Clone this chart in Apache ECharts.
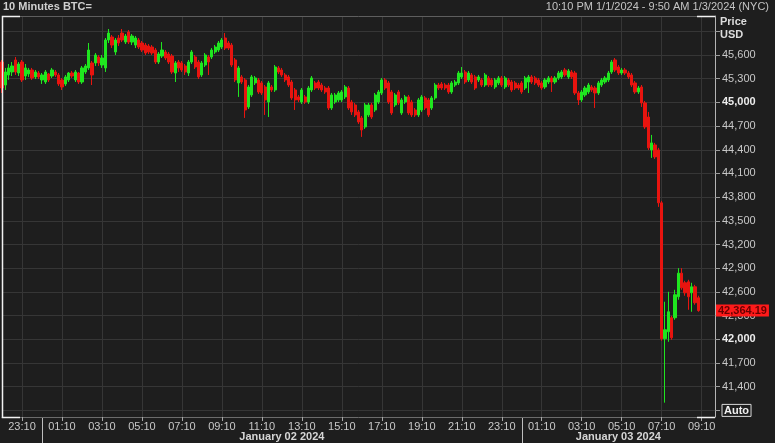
<!DOCTYPE html>
<html><head><meta charset="utf-8">
<script src="https://cdn.jsdelivr.net/npm/echarts@6/dist/echarts.min.js"></script>
<style>html,body{margin:0;padding:0;background:#1e1e1e;overflow:hidden}#c{width:775px;height:443px}</style>
</head><body><div id="c"></div>
<script>
const titleText = '10 Minutes BTC=';
const rangeText = '10:10 PM 1/1/2024 - 9:50 AM 1/3/2024 (NYC)';
const unitLines = ['Price', 'USD'];
// 10-minute bar times (NYC), 01/01 22:10 .. 01/03 09:50
const categories = [];
(function () { let d = 1, h = 22, m = 10;
  while (!(d === 3 && h === 10)) {
    categories.push('01/0' + d + ' ' + String(h).padStart(2, '0') + ':' + String(m).padStart(2, '0'));
    m += 10; if (m === 60) { m = 0; h++; if (h === 24) { h = 0; d++; } }
  } })();
const timeTickLabels = ['01:10','03:10','05:10','07:10','09:10','11:10','13:10','15:10','17:10','19:10','21:10','23:10'];
const dayStarts = ['01/02 00:10', '01/03 00:10'];
const dayLabels = ['January 02 2024', 'January 03 2024'];

const open = [45511,45220,45347,45385,45537,45372,45511,45334,45360,45410,
45322,45372,45284,45258,45360,45334,45385,45347,45284,45233,
45284,45372,45284,45372,45258,45385,45436,45499,45499,45575,
45473,45436,45790,45828,45638,45815,45878,45764,45891,45764,
45726,45790,45752,45726,45714,45701,45663,45511,45587,45638,
45613,45587,45372,45511,45499,45461,45372,45511,45575,45511,
45347,45473,45575,45575,45638,45663,45701,45815,45752,45726,
45537,45246,45322,45284,44942,45094,45246,45284,45246,45195,
45005,45195,45157,45436,45410,45347,45322,45258,45157,45069,
45005,45069,45005,45157,45246,45258,45220,45182,45182,44929,
45005,45031,45031,45069,45182,45005,44967,44879,44803,44689,
44841,44967,44904,45005,45119,45284,45246,45132,44967,45132,
44866,45005,45069,45005,44904,44841,44904,45056,45031,44929,
45056,45220,45233,45220,45220,45132,45220,45246,45322,45385,
45284,45347,45322,45284,45284,45220,45309,45284,45195,45246,
45309,45195,45284,45258,45246,45220,45246,45182,45258,45322,
45309,45284,45246,45195,45258,45309,45258,45309,45322,45410,
45322,45385,45372,45119,45031,45094,45132,45195,45182,45119,
45220,45258,45284,45385,45537,45448,45372,45410,45372,45347,
45246,45132,45195,44993,44815,44398,44461,44398,43728,42007,
42096,42273,42273,42539,42838,42716,42728,42589,42665,42526];
const close = [45182,45385,45436,45461,45385,45486,45284,45436,45410,45309,
45385,45322,45347,45385,45284,45410,45347,45233,45195,45322,
45372,45334,45385,45258,45436,45461,45663,45347,45600,45499,
45562,45790,45878,45726,45790,45752,45790,45840,45764,45840,
45815,45701,45663,45625,45638,45625,45511,45613,45663,45562,
45511,45385,45499,45436,45410,45385,45511,45638,45448,45322,
45499,45600,45511,45663,45701,45752,45790,45688,45688,45473,
45284,45436,45258,44904,45195,45322,45309,45132,45119,45031,
45246,45157,45448,45385,45347,45284,45220,45056,45031,45031,
45157,45005,45182,45309,45182,45182,45157,45132,44929,45094,
45094,45119,45132,45195,44929,44879,44841,44752,44651,44967,
44967,44815,45094,45132,45284,45182,45005,44866,45094,44993,
45031,45069,44866,44841,44841,45031,45069,44929,44841,45056,
45220,45182,45182,45182,45132,45246,45258,45372,45372,45258,
45372,45258,45182,45322,45220,45347,45220,45220,45284,45309,
45220,45309,45220,45157,45182,45182,45132,45309,45322,45258,
45246,45220,45182,45284,45309,45258,45309,45372,45385,45347,
45398,45322,45119,45031,45132,45182,45220,45157,45119,45246,
45284,45309,45372,45511,45410,45372,45410,45372,45322,45220,
45132,45182,44993,44689,44424,44487,44310,43728,42007,42121,
42349,42020,42564,42838,42652,42589,42539,42665,42463,42364.19];
const high = [45537,45436,45486,45511,45575,45511,45537,45486,45436,45436,
45410,45398,45372,45410,45372,45436,45410,45372,45309,45347,
45385,45398,45410,45385,45461,45486,45752,45524,45625,45600,
45600,45815,45929,45853,45815,45853,45929,45866,45916,45866,
45840,45815,45777,45752,45739,45726,45688,45638,45764,45663,
45638,45613,45524,45537,45524,45486,45537,45663,45600,45537,
45524,45625,45600,45688,45726,45777,45815,45878,45777,45752,
45562,45461,45347,45309,45220,45347,45334,45309,45271,45220,
45271,45220,45473,45461,45436,45372,45347,45284,45182,45094,
45182,45094,45208,45334,45271,45284,45246,45208,45208,45119,
45119,45144,45157,45220,45208,45031,44993,44904,44828,44993,
44993,44993,45119,45157,45309,45309,45271,45157,45119,45157,
45056,45094,45094,45031,44929,45056,45094,45081,45056,45081,
45246,45246,45258,45246,45246,45271,45284,45398,45448,45410,
45398,45372,45347,45347,45309,45372,45334,45309,45309,45334,
45334,45334,45309,45284,45271,45246,45271,45334,45347,45347,
45334,45309,45271,45309,45334,45334,45334,45398,45410,45436,
45423,45410,45398,45144,45157,45208,45246,45220,45208,45271,
45309,45334,45398,45537,45562,45473,45436,45436,45398,45372,
45271,45208,45220,45018,44879,44588,44487,44424,43753,42476,
42602,42298,42627,42901,42901,42741,42754,42716,42690,42552];
const low = [45119,45157,45284,45334,45347,45334,45258,45284,45322,45284,
45296,45296,45233,45233,45258,45309,45322,45208,45157,45208,
45258,45309,45258,45233,45233,45360,45410,45220,45461,45461,
45436,45385,45752,45688,45600,45714,45764,45739,45739,45726,
45688,45676,45638,45600,45613,45600,45486,45486,45562,45537,
45486,45360,45258,45385,45385,45347,45334,45486,45423,45296,
45322,45448,45347,45549,45613,45638,45676,45663,45663,45448,
45258,45069,45233,44803,44917,45069,45220,45107,45094,44841,
44815,45132,45132,45360,45322,45258,45195,45031,44904,45005,
44980,44980,44980,45132,45157,45157,45132,45107,44904,44904,
44980,45005,45005,45043,44904,44841,44815,44727,44563,44664,
44815,44790,44879,44980,45094,45157,44980,44841,44942,44967,
44841,44980,44841,44815,44815,44815,44879,44904,44815,44904,
45031,45157,45157,45157,45107,45107,45195,45220,45296,45233,
45258,45233,45157,45258,45195,45195,45195,45195,45170,45220,
45195,45170,45195,45132,45157,45157,45107,45157,45119,45233,
45220,45195,45157,45170,45233,45132,45233,45284,45296,45322,
45296,45296,45094,44967,45005,45069,45107,45132,44929,45094,
45195,45233,45258,45360,45385,45347,45347,45347,45296,45195,
45107,45107,44942,44664,44398,44297,44284,43677,41982,41198,
41969,41995,42248,42501,42627,42552,42374,42349,42438,42349];

const FONT = '"Liberation Sans", Arial, sans-serif';
const GRID_LINE = '#363636';
const ohlc = open.map((o, i) => [o, close[i], low[i], high[i]]);
const fmtInt = v => Math.round(v).toLocaleString('en-US');
const isTick = (idx) => timeTickLabels.indexOf(categories[idx].slice(6)) >= 0;

const chart = echarts.init(document.getElementById('c'), null, { renderer: 'canvas' });
const option = {
  backgroundColor: '#1e1e1e',
  animation: false,
  textStyle: { fontFamily: FONT },
  grid: [
    { left: 2, right: 60, top: 31.3, bottom: 32.6 },
    { left: 2, right: 60, top: 16, bottom: 26 }
  ],
  xAxis: [
    { type: 'category', gridIndex: 0, data: categories, boundaryGap: false, show: false },
    { type: 'category', gridIndex: 1, data: categories, boundaryGap: false,
      axisLine: { show: true, lineStyle: { color: '#6c6c6c' } },
      axisTick: { show: true, interval: isTick, length: 4, lineStyle: { color: '#a8a8a8' } },
      axisLabel: { interval: isTick, formatter: v => v.slice(6), color: '#c8c8c8', fontSize: 11, fontFamily: FONT, margin: 4 },
      splitLine: { show: true, interval: isTick, lineStyle: { color: GRID_LINE } } }
  ],
  yAxis: [
    { type: 'value', gridIndex: 0, position: 'right', min: 41100, max: 45900, interval: 300,
      axisLine: { show: false },
      axisTick: { show: true, length: 5, lineStyle: { color: '#9c9c9c' } },
      splitLine: { show: true, lineStyle: { color: GRID_LINE } },
      axisLabel: { margin: 7, color: '#c8c8c8', fontSize: 11, fontFamily: FONT,
        formatter: v => {
          if (v === 45900) return '';
          if (v === 41100) return '{auto|Auto}';
          if (v % 3000 === 0) return '{b|' + fmtInt(v) + '}';
          return fmtInt(v);
        },
        rich: {
          auto: { color: '#f0f0f0', fontWeight: 'bold', fontSize: 11, fontFamily: FONT, borderColor: '#d8d8d8', borderWidth: 1, padding: [1, 2, 0, 2] },
          b: { color: '#ececec', fontWeight: 'bold', fontSize: 11, fontFamily: FONT }
        } } },
    { type: 'value', gridIndex: 1, position: 'right', min: 0, max: 1,
      axisLine: { show: true, lineStyle: { color: '#b4b4b4' } },
      axisTick: { show: false }, axisLabel: { show: false }, splitLine: { show: false } }
  ],
  series: [{
    type: 'candlestick', xAxisIndex: 0, yAxisIndex: 0, data: ohlc, barWidth: '80%', clip: false,
    itemStyle: { color: '#1fe61f', color0: '#e8140f', borderColor: '#1fe61f', borderColor0: '#e8140f', borderWidth: 1 },
    markLine: {
      silent: true, symbol: ['none', 'none'], animation: false,
      lineStyle: { color: 'rgba(0,0,0,0)', width: 0, type: 'solid' },
      data: [{ yAxis: close[close.length - 1] }],
      label: { show: true, position: 'end', distance: 1,
        formatter: p => Number(p.value).toLocaleString('en-US', { minimumFractionDigits: 2, maximumFractionDigits: 2 }),
        backgroundColor: '#ff1a1a', color: '#6a0000', fontWeight: 'bold', fontSize: 11, fontFamily: FONT, padding: [1, 2, 0, 2] }
    }
  }]
};
chart.setOption(option);

// header, frame and day separators positioned via the axis scales
const lastIdx = categories.length - 1;
const xL = chart.convertToPixel({ xAxisIndex: 1 }, categories[0]);
const xR = chart.convertToPixel({ xAxisIndex: 1 }, categories[lastIdx]);
const yT = 16.5, yB = 417.5;
const sepX = dayStarts.map(c => chart.convertToPixel({ xAxisIndex: 1 }, c));
const bounds = sepX.concat([xR]);
const g = [
  { type: 'text', x: 3, y: 7, style: { text: titleText, font: 'bold 11px ' + FONT, fill: '#d0d0d0', textVerticalAlign: 'middle' } },
  { type: 'text', x: 769, y: 7, style: { text: rangeText, font: '11px ' + FONT, fill: '#c4c4c4', textAlign: 'right', textVerticalAlign: 'middle' } },
  { type: 'text', x: 720, y: 22, style: { text: unitLines[0], font: 'bold 11px ' + FONT, fill: '#dcdcdc', textVerticalAlign: 'middle' } },
  { type: 'text', x: 720, y: 35, style: { text: unitLines[1], font: 'bold 11px ' + FONT, fill: '#dcdcdc', textVerticalAlign: 'middle' } },
  { type: 'line', shape: { x1: xL, y1: yT, x2: xR, y2: yT }, style: { stroke: '#5e5e5e', lineWidth: 1 } },
  { type: 'polyline', z: 100, shape: { points: [[xL + 18, yT], [xL + 0.5, yT], [xL + 0.5, yB], [xL + 18, yB]] }, style: { stroke: '#f2f2f2', lineWidth: 1.5, fill: null } },
  { type: 'line', z: 100, shape: { x1: xR - 18, y1: yT, x2: xR, y2: yT }, style: { stroke: '#f2f2f2', lineWidth: 1.5 } },
  { type: 'line', z: 100, shape: { x1: xR - 18, y1: yB, x2: xR, y2: yB }, style: { stroke: '#f2f2f2', lineWidth: 1.5 } }
];
sepX.forEach((x, k) => {
  g.push({ type: 'line', shape: { x1: Math.round(x) + 0.5, y1: 418, x2: Math.round(x) + 0.5, y2: 443 }, style: { stroke: '#bdbdbd', lineWidth: 1 } });
  g.push({ type: 'text', x: (bounds[k] + bounds[k + 1]) / 2, y: 437, style: { text: dayLabels[k], font: 'bold 11px ' + FONT, fill: '#d6d6d6', textAlign: 'center', textVerticalAlign: 'middle' } });
});
chart.setOption({ graphic: g });
</script></body></html>
